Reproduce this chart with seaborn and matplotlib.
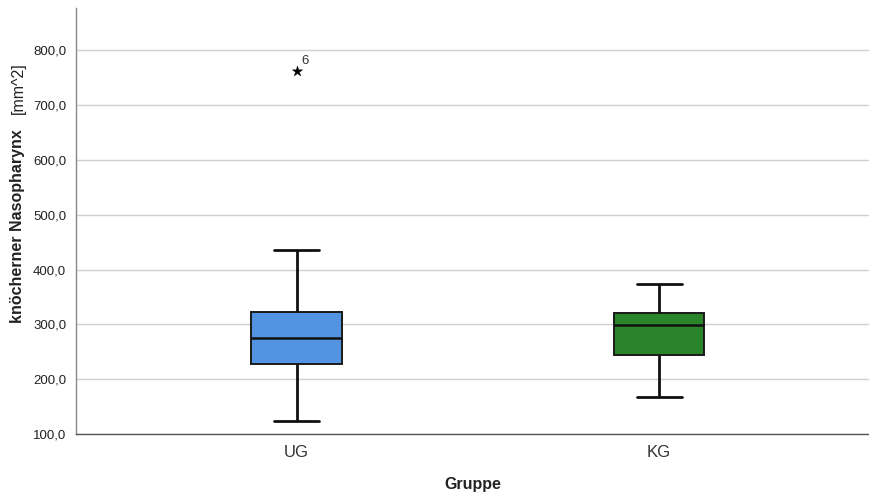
import numpy as np
import pandas as pd
import matplotlib
matplotlib.use("Agg")
import matplotlib.pyplot as plt
import seaborn as sns

# ---- data (five-number summaries) ----
groups = ["UG", "KG"]
ug_values = [124, 228, 276, 322, 435]   # min, Q1, median, Q3, max (whisker ends)
kg_values = [167, 244, 299, 321, 373]
outlier_group = ["UG"]
outlier_values = [762]
outlier_labels = ["6"]
y_ticks = [100, 200, 300, 400, 500, 600, 700, 800]
box_colors = ["#5294E2", "#2A852A"]

df = pd.DataFrame({
    "Gruppe": ["UG"] * len(ug_values) + ["KG"] * len(kg_values),
    "value": ug_values + kg_values,
})
df_out = pd.DataFrame({"Gruppe": outlier_group, "value": outlier_values})

sns.set_theme(style="white")
plt.rcParams["font.family"] = ["Liberation Sans", "DejaVu Sans"]

W, H = 870, 495
fig = plt.figure(figsize=(W / 100, H / 100), dpi=100)
ax = fig.add_axes([76 / W, 1 - 434 / H, (869 - 76) / W, (434 - 8) / H])

sns.boxplot(data=df, x="Gruppe", y="value", hue="Gruppe", order=groups,
            hue_order=groups, palette=box_colors, saturation=1, width=0.25,
            whis=(0, 100), showfliers=False, linecolor="#1a1a1a", linewidth=1.4,
            legend=False, ax=ax,
            medianprops={"linewidth": 1.8, "color": "#111111"},
            whiskerprops={"linewidth": 2.0, "color": "#111111"},
            capprops={"linewidth": 2.0, "color": "#111111"})

sns.scatterplot(data=df_out, x="Gruppe", y="value", marker="*", s=60,
                color="black", edgecolor="black", linewidth=0.3, ax=ax,
                legend=False, zorder=5)
for g, v, lab in zip(outlier_group, outlier_values, outlier_labels):
    xi = groups.index(g)
    ax.annotate(lab, (xi, v), xytext=(3.5, 3), textcoords="offset points",
                fontsize=9.5, color="#333333", ha="left", va="bottom")

ax.set_xlim(-0.609, 1.579)
ax.set_ylim(100, 877)
ax.set_yticks(y_ticks)
ax.set_yticklabels([f"{t:.1f}".replace(".", ",") for t in y_ticks])
ax.tick_params(axis="y", labelsize=9.5, length=0, pad=7, colors="#222222")
ax.tick_params(axis="x", labelsize=12, length=0, pad=8, colors="#333333")
ax.yaxis.grid(True, color="#CFCFCF", linewidth=1.0)
ax.set_axisbelow(True)

for s in ["top", "right"]:
    ax.spines[s].set_visible(False)
ax.spines["left"].set_color("#888888")
ax.spines["bottom"].set_color("#555555")
ax.spines["left"].set_linewidth(1.0)
ax.spines["bottom"].set_linewidth(1.0)

ax.set_xlabel("Gruppe", fontsize=11.5, fontweight="bold", color="#222222", labelpad=12)
ax.set_ylabel("")

fig.text(18 / W, 1 - 323 / H, "knöcherner Nasopharynx", rotation=90,
         ha="center", va="bottom", fontsize=11.5, fontweight="bold", color="#222222")
fig.text(18 / W, 1 - 62 / H, "[mm^2]", rotation=90,
         ha="center", va="top", fontsize=11.5, color="#222222")

fig.savefig("out.png", dpi=100)
